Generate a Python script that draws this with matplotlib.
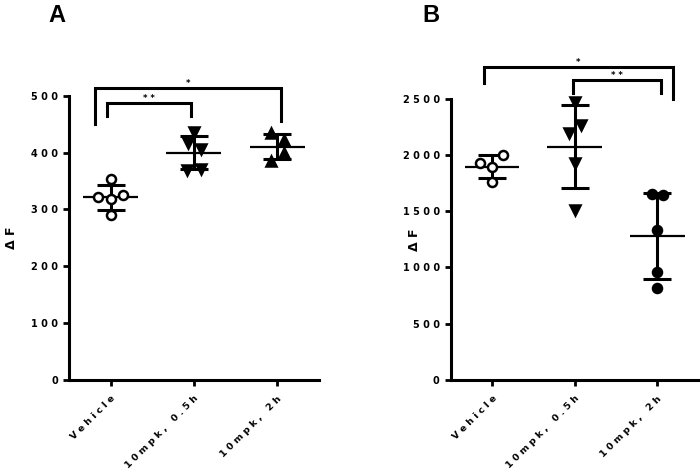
import numpy as np
from matplotlib import pyplot as plt

plt.rcParams['font.family'] = 'DejaVu Sans'
plt.rcParams['font.weight'] = 'bold'

# Categories (same for both panels)
groups = ["Vehicle", "10mpk, 0.5h", "10mpk, 2h"]

# Panel A values (ΔF)
a_vehicle = [353, 321, 318, 325, 290]
a_05h = [436, 416, 406, 369, 371]
a_2h = [435, 422, 399, 386]

# Panel B values (ΔF)
b_vehicle = [2003, 1926, 1896, 1762]
b_05h = [2473, 2266, 2192, 1931, 1511]
b_2h = [1650, 1644, 1333, 957, 815]

# horizontal scatter of the points inside each column (category units)
a_jitter = [[0, -0.15, 0, 0.15, 0],
            [0, -0.07, 0.08, -0.08, 0.08],
            [-0.07, 0.08, 0.08, -0.07]]
b_jitter = [[0.13, -0.15, 0, 0],
            [0, 0.08, -0.065, 0, 0],
            [-0.06, 0.065, 0, 0, 0]]

# significance brackets: (x left, x right, top, left leg end, right leg end, label)
a_brackets = [(-0.04, 0.97, 488, 465, 465, "* *"),
              (-0.19, 2.05, 513, 450, 455, "*")]
b_brackets = [(0.975, 2.04, 2663, 2548, 2548, "* *"),
              (-0.10, 2.19, 2784, 2642, 2495, "*")]


def spaced(s):
    # letter-spaced look of the original labels
    return " ".join(s)


def draw_panel(ax, data, jitter, markers, fills, brackets, ymax, ystep):
    for i, vals in enumerate(data):
        vals = np.array(vals, dtype=float)
        xs = i + np.array(jitter[i])
        m = vals.mean()
        sd = vals.std(ddof=1)
        ax.hlines(m, i - 0.33, i + 0.33, color='black', lw=1.6, zorder=2)
        ax.errorbar([i], [m], yerr=[sd], fmt='none', ecolor='black',
                    elinewidth=2.2, capsize=10, capthick=2.2, zorder=2)
        ax.plot(xs, vals, linestyle='none', marker=markers[i], ms=6.5,
                mfc=fills[i], mec='black', mew=1.8, zorder=3, clip_on=False)

    for x0, x1, top, l0, l1, lab in brackets:
        ax.plot([x0, x0, x1, x1], [l0, top, top, l1], color='black',
                lw=2.2, clip_on=False, solid_joinstyle='miter')
        ax.text((x0 + x1) / 2, top, lab, ha='center', va='bottom',
                fontsize=6, fontweight='bold')

    ax.set_xlim(-0.5, 2.5)
    ax.set_ylim(0, ymax)
    ticks = np.arange(0, ymax + 1, ystep)
    ax.set_yticks(ticks)
    ax.set_yticklabels([spaced(str(int(t))) for t in ticks], fontsize=7,
                       fontweight='bold')
    ax.set_xticks(range(len(groups)))
    ax.set_xticklabels([spaced(g) for g in groups], rotation=45, ha='right',
                       rotation_mode='anchor', fontsize=6.8, fontweight='bold')
    ax.tick_params(axis='both', width=2, length=4, direction='out')
    ax.tick_params(axis='x', pad=6)
    ax.tick_params(axis='y', pad=4)
    for s in ['top', 'right']:
        ax.spines[s].set_visible(False)
    for s in ['left', 'bottom']:
        ax.spines[s].set_linewidth(2.2)
    ax.set_ylabel("Δ F", fontsize=9, fontweight='bold')


fig = plt.figure(figsize=(7, 4.74), dpi=100)
ax_a = fig.add_axes([0.0986, 0.1983, 0.357, 0.5998])
ax_b = fig.add_axes([0.644, 0.1983, 0.354, 0.5935])

draw_panel(ax_a, [a_vehicle, a_05h, a_2h], a_jitter,
           ['o', 'v', '^'], ['white', 'black', 'black'],
           a_brackets, 500, 100)
draw_panel(ax_b, [b_vehicle, b_05h, b_2h], b_jitter,
           ['o', 'v', 'o'], ['white', 'black', 'black'],
           b_brackets, 2500, 500)

ax_a.yaxis.set_label_coords(-0.205, 0.5)
ax_b.yaxis.set_label_coords(-0.12, 0.5)

fig.text(0.069, 0.953, "A", fontsize=17, fontweight='bold', va='baseline',
         family='Liberation Sans')
fig.text(0.604, 0.953, "B", fontsize=17, fontweight='bold', va='baseline',
         family='Liberation Sans')

fig.savefig("out.png", dpi=100)
